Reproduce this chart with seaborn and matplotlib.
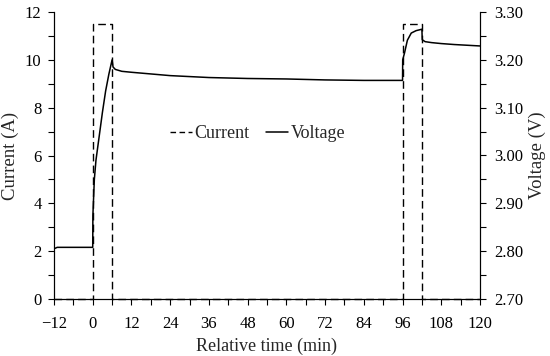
import numpy as np
import pandas as pd
import matplotlib
matplotlib.use("Agg")
import matplotlib.pyplot as plt
from matplotlib.ticker import MultipleLocator, FormatStrFormatter
from matplotlib.lines import Line2D
import seaborn as sns

# ---- data ----
cur_time = [-12, 0, 0, 6, 6, 96, 96, 102, 102, 120]
cur_amp = [0, 0, 11.5, 11.5, 0, 0, 11.5, 11.5, 0, 0]

volt_time = [-12, -11, -10, 0, 0.05, 0.5, 1, 2, 3, 4, 5, 6, 6.3, 7, 9, 12, 24, 36, 48, 60,
             72, 84, 96, 96.05, 96.6, 97.5, 98.7, 100.2, 102, 102.1, 103, 105, 108, 112, 120]
volt_v = [2.805, 2.808, 2.808, 2.808, 2.875, 2.95, 2.99, 3.04, 3.09, 3.135, 3.17, 3.20, 3.185,
          3.180, 3.176, 3.174, 3.167, 3.163, 3.161, 3.160, 3.158, 3.157, 3.157, 3.20, 3.214,
          3.241, 3.256, 3.261, 3.264, 3.242, 3.238, 3.236, 3.234, 3.232, 3.229]

x_ticks = list(range(-12, 121, 12))
x_labels = ["\u221212" if t == -12 else str(t) for t in x_ticks]

sns.set_theme(style="ticks")
plt.rcParams["font.family"] = ["Liberation Serif", "DejaVu Serif"]
plt.rcParams["font.size"] = 12

fig = plt.figure(figsize=(5.5, 3.56), dpi=100)
ax = fig.add_axes([54 / 550, 57 / 356, 426 / 550, 287 / 356])
ax2 = ax.twinx()

cur_df = pd.DataFrame({"t": cur_time, "I": cur_amp})
volt_df = pd.DataFrame({"t": volt_time, "V": volt_v})

sns.lineplot(data=cur_df, x="t", y="I", ax=ax, sort=False, estimator=None,
             color="black", lw=1.0, label="Current", legend=False, clip_on=False)
ax.lines[0].set_dashes([5.5, 3])
sns.lineplot(data=volt_df, x="t", y="V", ax=ax2, sort=False, estimator=None,
             color="black", lw=1.1, label="Voltage", legend=False)

ax.set_xlim(-12, 120)
ax.set_ylim(0, 12)
ax2.set_ylim(2.70, 3.30)

ax.set_xticks(x_ticks)
ax.set_xticklabels(x_labels)
ax.xaxis.set_minor_locator(MultipleLocator(6))
ax.yaxis.set_major_locator(MultipleLocator(2))
ax.yaxis.set_minor_locator(MultipleLocator(1))
ax2.yaxis.set_major_locator(MultipleLocator(0.1))
ax2.yaxis.set_minor_locator(MultipleLocator(0.05))
ax2.yaxis.set_major_formatter(FormatStrFormatter("%.2f"))

for a in (ax, ax2):
    a.spines["top"].set_visible(False)
    for s in a.spines.values():
        s.set_color("black")
        s.set_linewidth(0.8)
    a.tick_params(which="both", direction="out", length=4, width=0.8, color="black",
                  labelsize=12, labelcolor="black")
ax.tick_params(axis="x", which="both", pad=8)
ax.tick_params(axis="y", which="both", pad=5)
ax2.tick_params(axis="y", which="both", pad=6)

ax.set_xlabel("Relative time (min)", fontsize=13, labelpad=4)
ax.set_ylabel("Current (A)", fontsize=13.5)
ax2.set_ylabel("Voltage (V)", fontsize=13.5)
ax.yaxis.set_label_coords(-0.082, 0.5)
ax2.yaxis.set_label_coords(1.115, 0.5)
ax.set_zorder(ax2.get_zorder() + 1)
ax.patch.set_visible(False)

handles = [Line2D([], [], color="black", lw=1.0, dashes=[4, 2.5]),
           Line2D([], [], color="black", lw=1.1)]
ax.legend(handles, ["Current", "Voltage"], loc="center", bbox_to_anchor=(0.478, 0.575),
          ncol=2, frameon=False, handlelength=1.2, handletextpad=0.15, columnspacing=0.9,
          fontsize=13)

fig.savefig("out.png", dpi=100)
